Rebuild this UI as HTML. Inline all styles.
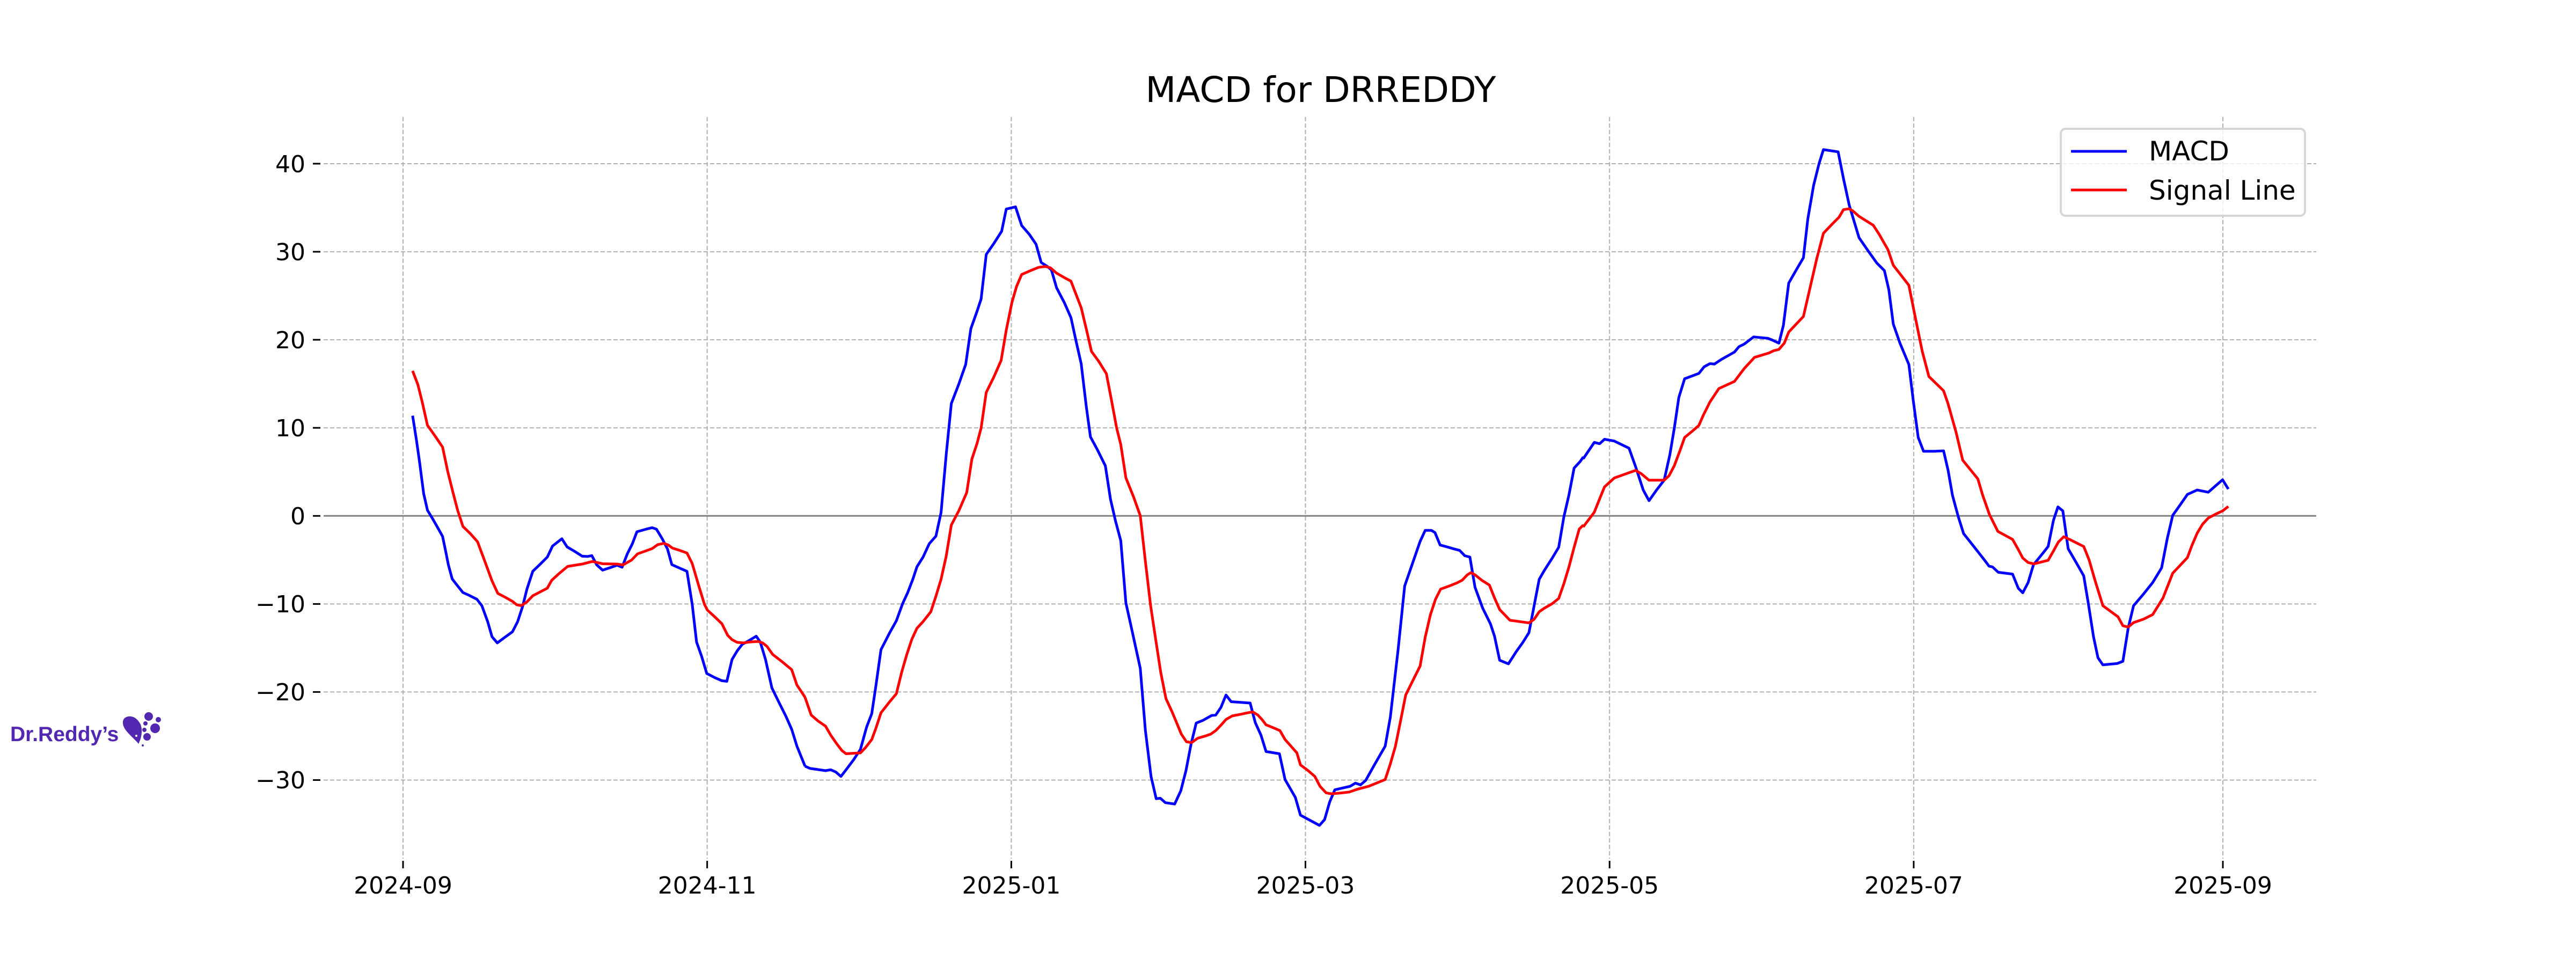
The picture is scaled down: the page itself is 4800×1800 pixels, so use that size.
<!DOCTYPE html>
<html><head><meta charset="utf-8"><style>html,body{margin:0;padding:0;background:#fff}svg{display:block}</style></head>
<body>
<svg xmlns="http://www.w3.org/2000/svg" width="4800" height="1800" viewBox="0 0 4800 1800" font-family="'DejaVu Sans','Liberation Sans',sans-serif">
<rect width="4800" height="1800" fill="#fff"/>
<g stroke="#b0b0b0" stroke-width="2" stroke-dasharray="8,4" fill="none">
<line x1="603" y1="305" x2="4316" y2="305"/>
<line x1="603" y1="469.1" x2="4316" y2="469.1"/>
<line x1="603" y1="633.1" x2="4316" y2="633.1"/>
<line x1="603" y1="797.2" x2="4316" y2="797.2"/>
<line x1="603" y1="1125.4" x2="4316" y2="1125.4"/>
<line x1="603" y1="1289.4" x2="4316" y2="1289.4"/>
<line x1="603" y1="1453.5" x2="4316" y2="1453.5"/>
<line x1="751" y1="218" x2="751" y2="1600"/>
<line x1="1317.7" y1="218" x2="1317.7" y2="1600"/>
<line x1="1884.4" y1="218" x2="1884.4" y2="1600"/>
<line x1="2432.5" y1="218" x2="2432.5" y2="1600"/>
<line x1="2999.2" y1="218" x2="2999.2" y2="1600"/>
<line x1="3565.9" y1="218" x2="3565.9" y2="1600"/>
<line x1="4142" y1="218" x2="4142" y2="1600"/>
</g>
<line x1="603" y1="961.3" x2="4316" y2="961.3" stroke="#808080" stroke-width="3"/>
<g stroke="#000" stroke-width="3">
<line x1="583" y1="305" x2="597" y2="305"/><line x1="583" y1="469.1" x2="597" y2="469.1"/>
<line x1="583" y1="633.1" x2="597" y2="633.1"/><line x1="583" y1="797.2" x2="597" y2="797.2"/>
<line x1="583" y1="961.3" x2="597" y2="961.3"/><line x1="583" y1="1125.4" x2="597" y2="1125.4"/>
<line x1="583" y1="1289.4" x2="597" y2="1289.4"/><line x1="583" y1="1453.5" x2="597" y2="1453.5"/>
<line x1="751" y1="1604" x2="751" y2="1618"/><line x1="1317.7" y1="1604" x2="1317.7" y2="1618"/>
<line x1="1884.4" y1="1604" x2="1884.4" y2="1618"/><line x1="2432.5" y1="1604" x2="2432.5" y2="1618"/>
<line x1="2999.2" y1="1604" x2="2999.2" y2="1618"/><line x1="3565.9" y1="1604" x2="3565.9" y2="1618"/>
<line x1="4142" y1="1604" x2="4142" y2="1618"/>
</g>
<g font-size="44" fill="#000" text-anchor="end">
<text x="569" y="321">40</text><text x="569" y="485">30</text><text x="569" y="649">20</text>
<text x="569" y="813">10</text><text x="569" y="977">0</text><text x="569" y="1141">−10</text>
<text x="569" y="1305">−20</text><text x="569" y="1469">−30</text>
</g>
<g font-size="44" fill="#000" text-anchor="middle">
<text x="751" y="1665">2024-09</text><text x="1317.7" y="1665">2024-11</text><text x="1884.4" y="1665">2025-01</text>
<text x="2432.5" y="1665">2025-03</text><text x="2999.2" y="1665">2025-05</text><text x="3565.9" y="1665">2025-07</text>
<text x="4142" y="1665">2025-09</text>
</g>
<text x="2461" y="190" font-size="66" text-anchor="middle" fill="#000">MACD for DRREDDY</text>

<g fill="none" stroke-linejoin="round" stroke-linecap="butt">
<g transform="translate(700,600) scale(0.5421)">
<polyline vector-effect="non-scaling-stroke" stroke="#0000ff" stroke-width="5" points="127,322 140,405 150,475 165,590 178,647 195,675 215,710 230,737 240,785 250,835 263,883 280,905 300,930 320,939 348,953 365,975 385,1030 400,1082 418,1103 445,1083 470,1065 488,1030 505,978 520,918 540,857 565,833 590,808 608,770 640,745 658,773 685,789 710,805 728,806 743,803 760,835 780,853 810,843 830,836 847,843 865,797 882,763 898,721 930,712 950,707 965,712 985,745 1003,780 1018,834 1045,846 1070,857 1088,970 1103,1100 1120,1148 1138,1208 1165,1222 1190,1233 1207,1235 1225,1160 1243,1130 1260,1108 1280,1097 1308,1080 1322,1100 1340,1160 1362,1258 1385,1305 1410,1355 1430,1400 1448,1458 1476,1527"/>
<polyline vector-effect="non-scaling-stroke" stroke="#ff0000" stroke-width="5" points="127,168 145,215 160,275 178,355 205,393 230,430 248,515 265,583 282,648 300,703 325,727 350,755 375,822 400,890 420,933 445,946 470,960 485,972 500,975 520,962 540,941 565,928 590,915 605,888 630,865 660,840 710,832 745,823 780,831 830,832 850,835 880,818 900,797 925,788 950,779 970,765 990,761 1005,766 1020,777 1045,785 1070,794 1088,830 1110,905 1130,970 1140,990 1165,1013 1190,1037 1210,1077 1225,1092 1242,1101 1265,1103 1285,1100 1315,1098 1330,1103 1345,1115 1365,1143 1395,1166 1430,1195 1448,1248 1476,1290"/>
</g>
<g transform="translate(1500,300) scale(0.9567,0.8292)">
<polyline vector-effect="non-scaling-stroke" stroke="#0000ff" stroke-width="5" points="0,1360 10,1365 40,1370 50,1368 60,1373 70,1383 80,1368 95,1345 108,1322 120,1272 130,1242 138,1180 148,1098 165,1060 178,1033 190,995 200,970 210,940 218,912 230,890 242,860 255,843 265,790 275,660 285,545 300,500 313,457 323,377 335,338 343,310 353,210 368,185 383,158 392,108 410,103 422,145 437,165 450,187 460,228 472,237 480,245 490,285 505,318 518,352 528,405 538,456 548,553 556,620 570,650 585,685 595,760 605,810 615,853 625,993 635,1045 653,1140 663,1280 674,1383 684,1433 692,1432 702,1442 720,1445 732,1415 742,1370 752,1310 762,1263 775,1257 792,1246 800,1245 810,1228 820,1200 830,1215 867,1218 877,1262 888,1290 898,1327 924,1332 935,1390 955,1430 965,1470 1002,1493 1012,1480 1022,1440 1032,1413 1062,1405 1072,1398 1082,1402 1092,1392 1110,1355 1130,1315 1140,1250 1155,1100 1168,955 1183,905 1198,855 1208,830 1220,830 1227,835 1237,863 1250,867 1265,872 1275,875 1285,887 1295,890 1305,958 1320,1005 1335,1040 1343,1068 1353,1122 1370,1130 1385,1103 1398,1082 1410,1060 1420,1000 1430,940 1440,920 1455,893 1468,868 1478,800 1488,750 1498,690 1510,675 1516,665"/>
<polyline vector-effect="non-scaling-stroke" stroke="#ff0000" stroke-width="5" points="0,1205 12,1245 25,1258 40,1270 50,1290 62,1310 72,1325 80,1332 108,1330 118,1318 130,1300 138,1275 148,1240 165,1215 178,1197 188,1150 198,1110 208,1075 218,1050 230,1035 245,1013 255,978 265,940 275,888 285,818 300,785 315,745 325,670 335,635 343,600 353,520 368,485 382,448 392,380 403,318 412,282 422,255 440,246 455,239 468,237 478,240 490,252 505,262 518,270 528,300 538,330 548,378 558,428 572,450 587,478 597,538 607,600 615,637 625,712 640,755 653,797 663,900 673,998 683,1075 693,1150 703,1208 715,1238 723,1260 733,1288 743,1305 753,1307 765,1297 780,1292 790,1288 800,1280 810,1268 820,1255 832,1247 850,1243 862,1240 872,1238 882,1245 890,1255 898,1267 915,1275 925,1280 935,1300 945,1313 958,1330 965,1357 980,1370 993,1383 1003,1405 1015,1420 1025,1422 1045,1420 1060,1418 1075,1412 1098,1405 1115,1397 1130,1390 1140,1355 1150,1315 1160,1258 1170,1200 1185,1165 1198,1135 1208,1070 1218,1020 1228,985 1238,962 1255,955 1270,948 1280,942 1290,930 1297,925 1305,930 1318,942 1333,953 1343,982 1353,1008 1373,1032 1398,1036 1410,1038 1420,1030 1430,1013 1440,1005 1455,995 1468,983 1478,950 1488,912 1498,868 1508,827 1516,818"/>
</g>
<g transform="translate(2950,200) scale(0.8291)">
<polyline vector-effect="non-scaling-stroke" stroke="#0000ff" stroke-width="5" points="0,790 25,753 37,756 48,746 70,750 103,766 118,808 135,860 148,884 165,860 182,838 195,780 205,720 215,652 228,610 260,598 272,583 285,576 295,577 310,567 340,550 350,538 362,532 383,516 415,519 425,523 440,530 450,490 462,395 478,367 495,338 505,250 518,175 530,127 540,95 573,100 585,160 598,220 620,293 640,322 660,350 677,367 687,410 697,487 712,530 732,578 742,660 753,742 765,773 790,773 810,772 820,815 830,872 843,920 855,958 878,987 900,1015 912,1031 920,1033 933,1045 965,1049 978,1081 988,1091 1000,1068 1012,1028 1030,1006 1045,987 1057,928 1067,898 1078,907 1090,992 1108,1023 1125,1053 1135,1113 1147,1190 1157,1237 1168,1253 1200,1250 1213,1245 1225,1170 1237,1120 1260,1093 1280,1068 1300,1035 1313,968 1325,917 1342,893 1358,870 1380,860 1405,865 1422,850 1437,837 1450,858"/>
<polyline vector-effect="non-scaling-stroke" stroke="#ff0000" stroke-width="5" points="0,943 25,910 37,880 48,853 70,833 95,824 118,816 130,823 148,838 182,838 193,828 205,805 217,773 228,742 245,728 260,715 270,692 285,662 305,632 340,616 362,587 385,562 418,552 428,547 440,544 452,530 462,505 478,488 495,470 510,405 525,340 540,283 560,262 575,247 585,230 597,228 605,232 620,245 652,265 665,285 685,320 697,355 715,378 732,400 745,465 762,548 777,605 810,637 820,666 838,730 853,793 887,835 898,872 913,915 932,953 965,971 978,994 988,1013 1000,1023 1013,1026 1045,1018 1057,997 1068,977 1080,965 1095,972 1125,987 1137,1017 1150,1062 1168,1120 1202,1145 1213,1165 1225,1168 1237,1158 1260,1150 1280,1140 1303,1103 1325,1047 1358,1012 1368,985 1380,957 1392,937 1405,923 1422,914 1437,907 1450,897"/>
</g>
</g>

<rect x="3840" y="240" width="455" height="162" rx="9" fill="#fff" fill-opacity="0.8" stroke="#d6d6d6" stroke-width="4"/>
<line x1="3859" y1="282" x2="3963" y2="282" stroke="#0000ff" stroke-width="5"/>
<line x1="3859" y1="354" x2="3963" y2="354" stroke="#ff0000" stroke-width="5"/>
<text x="4004" y="299" font-size="50" fill="#000">MACD</text>
<text x="4004" y="372" font-size="50" fill="#000">Signal Line</text>

<text x="19" y="1381" font-size="39" font-weight="bold" fill="#5228b0" font-family="'Liberation Sans',sans-serif">Dr.Reddy’s</text>
<g fill="#5228b0">
<path d="M258,1386 C250,1375 230,1362 229,1348 C228,1338 236,1334 244,1335 C252,1336 258,1342 262,1350 C266,1360 264,1375 258,1386 Z"/>
<circle cx="277" cy="1335" r="8"/><circle cx="295" cy="1341" r="5"/><circle cx="289" cy="1357" r="9"/>
<circle cx="271" cy="1348" r="4"/><circle cx="269" cy="1360" r="4"/><circle cx="274" cy="1373" r="7"/><circle cx="266" cy="1389" r="2"/>
</g>
<circle cx="254" cy="1371" r="2" fill="#fff"/>
</svg>
</body></html>
